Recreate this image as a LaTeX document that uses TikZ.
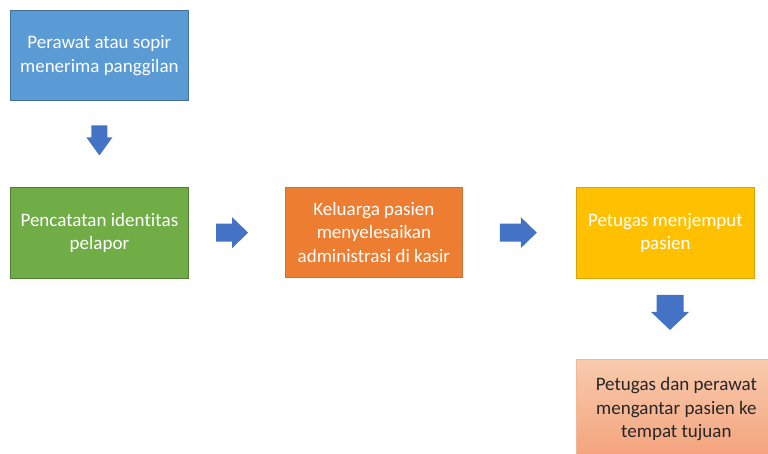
\documentclass[tikz,border=0pt]{standalone}
\usepackage{fontspec}
\setmainfont{Carlito}
\newfontfamily\boxfont{Carlito}[Ligatures=NoCommon]
\newcommand\tightboxfont{\boxfont\fontsize{19}{23.5}\selectfont}
\usetikzlibrary{calc}
\definecolor{cblue}{HTML}{5B9BD5}
\definecolor{cblueb}{HTML}{41719C}
\definecolor{cgreen}{HTML}{70AD47}
\definecolor{cgreenb}{HTML}{507E32}
\definecolor{corange}{HTML}{ED7D31}
\definecolor{coranb}{HTML}{D0702C}
\definecolor{cyellow}{HTML}{FFC000}
\definecolor{cyellowb}{HTML}{D9A400}
\definecolor{csalmtop}{HTML}{F8CBAD}
\definecolor{csalmbot}{HTML}{F4A27C}
\definecolor{csalmb}{HTML}{F0B896}
\definecolor{carrow}{HTML}{4472C4}
\newcommand\blockarr[6]{% center, angle, length, shaft, head width, head length
  \fill[carrow,shift={#1},rotate=#2]
    (-#3/2,-#4/2) -- (#3/2-#6,-#4/2) -- (#3/2-#6,-#5/2) -- (#3/2,0)
    -- (#3/2-#6,#5/2) -- (#3/2-#6,#4/2) -- (-#3/2,#4/2) -- cycle;}
\tikzset{
  box/.style={rectangle, line width=0.8pt, inner sep=0pt, anchor=north west,
    text width=#1, align=flush center, font=\tightboxfont},
  box/.default=175pt
}
\begin{document}
\begin{tikzpicture}[x=1pt,y=-1pt]
\useasboundingbox (0,0) rectangle (768,454);
\clip (0,0) rectangle (768,454);
\node[box, draw=cblueb, fill=cblue, text=white, minimum width=178pt, minimum height=90pt] (n1) at (10,10) {Perawat atau sopir\\menerima panggilan};
\node[box, draw=cgreenb, fill=cgreen, text=white, minimum width=178pt, minimum height=91pt] (n2) at (10,187) {Pencatatan iden\kern0pt tit\kern0pt as\\pelapor};
\node[box, draw=coranb, fill=corange, text=white, minimum width=177pt, minimum height=90pt] (n3) at (285,187) {Keluarga pasien\\menyelesaikan\\administrasi di kasir};
\node[box, draw=cyellowb, fill=cyellow, text=white, minimum width=178pt, minimum height=91pt] (n4) at (576,187) {Petugas menjemput\\pasien};
\node[box=195pt, draw=csalmb, top color=csalmtop, bottom color=csalmbot, text=black!85, minimum width=200pt, minimum height=100pt] (n5) at (576,359) {Petugas dan perawat\\mengantar pasien ke\\tempat tujuan};
\coordinate (a1) at ($(n1.south)!0.46!(n2.north)$);
\coordinate (a2) at ($(n2.east)!0.45!(n3.west)$);
\coordinate (a3) at ($(n3.east)!0.49!(n4.west)$);
\coordinate (a4) at ($(n4.south)!0.42!(n5.north)$);
\blockarr{(a1)}{-90}{30}{16}{26}{18}
\blockarr{(a2)}{0}{32}{18}{31}{16}
\blockarr{(a3)}{0}{37}{18}{31}{16}
\blockarr{(a4)}{-90}{35}{27}{38}{18}
\end{tikzpicture}
\end{document}
